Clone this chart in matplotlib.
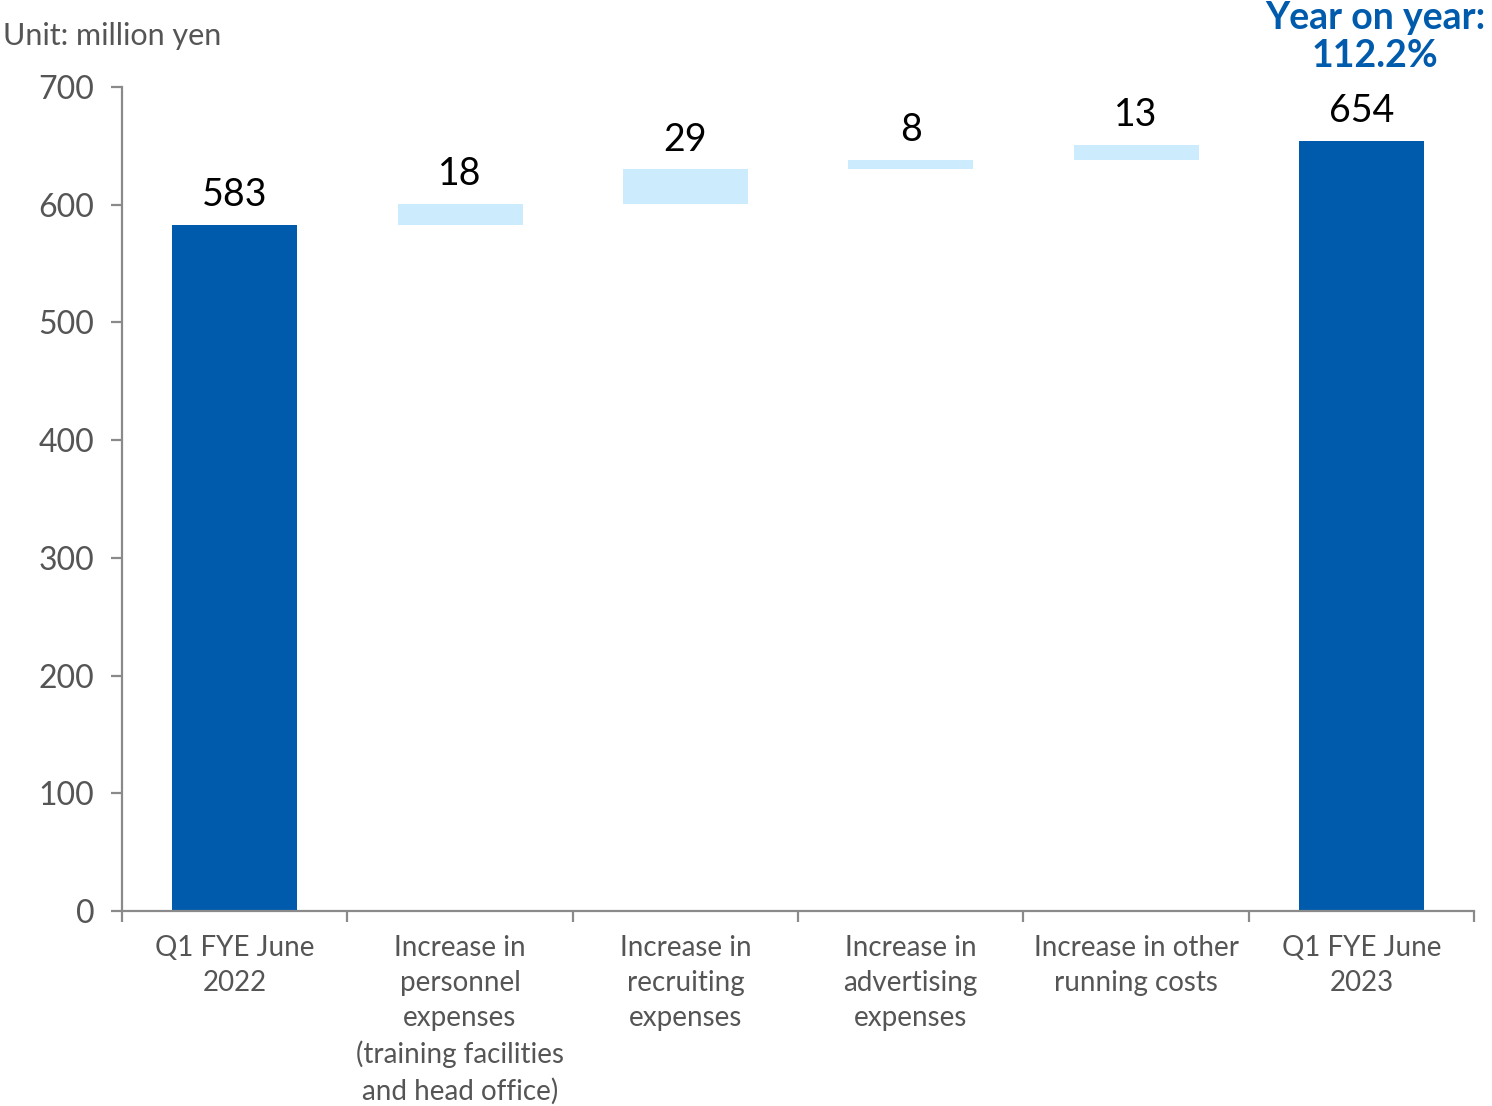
import matplotlib.pyplot as plt
import numpy as np
from matplotlib.ticker import FixedLocator, NullFormatter

plt.rcParams['font.family'] = ['Lato', 'DejaVu Sans']

# waterfall data (million yen)
categories = ["Q1 FYE June\n2022",
              "Increase in\npersonnel\nexpenses\n(training facilities\nand head office)",
              "Increase in\nrecruiting\nexpenses",
              "Increase in\nadvertising\nexpenses",
              "Increase in other\nrunning costs",
              "Q1 FYE June\n2023"]
start_value = 583
increments = [18, 29, 8, 13]
end_value = 654
yoy_text = "Year on year:\n112.2%"

dark_blue = "#005BAC"
light_blue = "#CCEBFC"
axis_gray = "#8a8a8a"
text_gray = "#555555"

heights = [start_value] + increments + [end_value]
bottoms = [0] + list(start_value + np.cumsum([0] + increments[:-1])) + [0]
colors = [dark_blue] + [light_blue] * len(increments) + [dark_blue]

fig = plt.figure(figsize=(14.92, 11.06), dpi=100)
ax = fig.add_axes([0.0818, 0.1763, 0.9062, 0.7450])

x = np.arange(len(categories))
ax.bar(x, heights, bottom=bottoms, width=0.555, color=colors, zorder=2)

# value labels above each bar
for xi, h, b in zip(x, heights, bottoms):
    ax.annotate(f"{h}", (xi, b + h), xytext=(0, 13.5), textcoords="offset points",
                ha="center", va="baseline", fontsize=27, color="black")

ax.set_xlim(-0.5, len(categories) - 0.5)
ax.set_ylim(0, 700)
ax.set_yticks(np.arange(0, 701, 100))

# boundary ticks on the x axis, labels centred under the bars
ax.xaxis.set_major_locator(FixedLocator(np.arange(-0.5, len(categories), 1.0)))
ax.xaxis.set_major_formatter(NullFormatter())
ax.xaxis.set_minor_locator(FixedLocator(x))
ax.set_xticklabels(categories, minor=True, fontsize=20, color=text_gray,
                   linespacing=1.43, va="top")
ax.tick_params(axis="x", which="minor", length=0, pad=17)
ax.tick_params(axis="x", which="major", length=8, width=1.6, color=axis_gray, direction="out")
ax.tick_params(axis="y", length=8, width=1.6, color=axis_gray, labelsize=23,
               labelcolor=text_gray, pad=12)

for side in ["top", "right"]:
    ax.spines[side].set_visible(False)
for side in ["left", "bottom"]:
    ax.spines[side].set_color(axis_gray)
    ax.spines[side].set_linewidth(1.6)

fig.text(0.002, 1 - 45 / 1106, "Unit: million yen", fontsize=22, color=text_gray,
         ha="left", va="baseline")
fig.text(0.9216, 1 - 67 / 1106, yoy_text, fontsize=27, fontweight="bold", color=dark_blue,
         ha="center", va="baseline", linespacing=1.13)

fig.savefig("out.png", dpi=100)
